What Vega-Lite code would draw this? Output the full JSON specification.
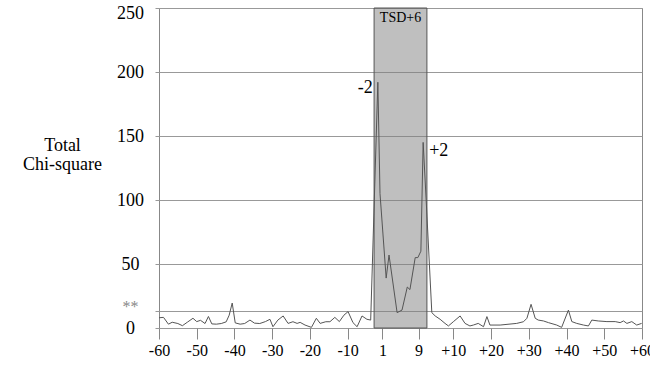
{
  "$schema": "https://vega.github.io/schema/vega-lite/v6.json",
  "width": 483,
  "height": 320,
  "autosize": {"type": "none"},
  "padding": {"left": 159, "top": 8, "right": 8, "bottom": 38},
  "background": "white",
  "config": {
    "view": {"stroke": "#888", "strokeWidth": 1},
    "font": "Liberation Serif, Times New Roman, serif",
    "axis": {"labelOverlap": false, "labelFont": "Liberation Serif, Times New Roman, serif", "titleFont": "Liberation Serif, Times New Roman, serif"},
    "text": {"font": "Liberation Serif, Times New Roman, serif"}
  },
  "data": {
    "values": [
      {"x": -60, "chi": 8}, {"x": -58.8, "chi": 8.3}, {"x": -57.5, "chi": 3}, {"x": -56.5, "chi": 4.5},
      {"x": -55, "chi": 3.5}, {"x": -53.8, "chi": 1.8}, {"x": -52.5, "chi": 4.5}, {"x": -51, "chi": 7.6},
      {"x": -50, "chi": 5}, {"x": -49, "chi": 6}, {"x": -47.8, "chi": 3.5}, {"x": -46.9, "chi": 9},
      {"x": -46, "chi": 3.2}, {"x": -44.8, "chi": 3}, {"x": -43.5, "chi": 3.5}, {"x": -42.2, "chi": 4.8},
      {"x": -41.4, "chi": 10}, {"x": -40.6, "chi": 19.5}, {"x": -39.8, "chi": 4}, {"x": -38.5, "chi": 3},
      {"x": -37.3, "chi": 3.5}, {"x": -35.9, "chi": 6.2}, {"x": -34.7, "chi": 3.8}, {"x": -33.3, "chi": 3.5},
      {"x": -31.8, "chi": 5}, {"x": -30.6, "chi": 6.8}, {"x": -29.8, "chi": 1}, {"x": -28.5, "chi": 6.2},
      {"x": -27.1, "chi": 9.4}, {"x": -25.8, "chi": 3.6}, {"x": -24.5, "chi": 4.9}, {"x": -23.4, "chi": 3.6},
      {"x": -22.6, "chi": 4.4}, {"x": -21.3, "chi": 2.3}, {"x": -19.6, "chi": 0.5}, {"x": -18.3, "chi": 7.6},
      {"x": -17.3, "chi": 3.6}, {"x": -15.8, "chi": 4.9}, {"x": -14.7, "chi": 4.9}, {"x": -13.4, "chi": 8.3},
      {"x": -12.2, "chi": 5}, {"x": -11, "chi": 10}, {"x": -9.9, "chi": 12.8}, {"x": -8.6, "chi": 4.2},
      {"x": -7.5, "chi": 1}, {"x": -6.2, "chi": 9.4}, {"x": -4.9, "chi": 6.8}, {"x": -3.9, "chi": 6.2},
      {"x": -2.0, "chi": 192}, {"x": -1.43, "chi": 105}, {"x": 0.2, "chi": 39}, {"x": 0.96, "chi": 57},
      {"x": 3.1, "chi": 12}, {"x": 4.4, "chi": 14}, {"x": 5.8, "chi": 32}, {"x": 6.5, "chi": 30},
      {"x": 7.9, "chi": 55}, {"x": 8.6, "chi": 55}, {"x": 9.4, "chi": 60}, {"x": 10.0, "chi": 145},
      {"x": 10.8, "chi": 100}, {"x": 12.3, "chi": 12}, {"x": 13.2, "chi": 9.4}, {"x": 14.5, "chi": 6.8},
      {"x": 15.8, "chi": 3.6}, {"x": 16.7, "chi": 1.6}, {"x": 18.0, "chi": 4.9}, {"x": 19.8, "chi": 9.4},
      {"x": 21.1, "chi": 3.6}, {"x": 22.4, "chi": 1.6}, {"x": 23.3, "chi": 2.3}, {"x": 24.6, "chi": 3.6},
      {"x": 26.0, "chi": 1.0}, {"x": 26.9, "chi": 8.9}, {"x": 27.7, "chi": 2.3}, {"x": 30.4, "chi": 2.3},
      {"x": 34.8, "chi": 3.6}, {"x": 36.6, "chi": 4.9}, {"x": 37.5, "chi": 7.6}, {"x": 38.6, "chi": 18.5},
      {"x": 39.7, "chi": 7.6}, {"x": 40.5, "chi": 6.2}, {"x": 41.9, "chi": 5.5}, {"x": 43.2, "chi": 4.2},
      {"x": 45.4, "chi": 2.3}, {"x": 46.7, "chi": 0.5}, {"x": 48.5, "chi": 14}, {"x": 49.4, "chi": 5},
      {"x": 50.7, "chi": 3.6}, {"x": 52.5, "chi": 2.3}, {"x": 53.8, "chi": 1.6}, {"x": 54.7, "chi": 6.2},
      {"x": 56.4, "chi": 5.5}, {"x": 58.7, "chi": 5}, {"x": 60.9, "chi": 5}, {"x": 62.2, "chi": 4.2},
      {"x": 63.1, "chi": 5.5}, {"x": 64.0, "chi": 3.6}, {"x": 65.3, "chi": 5}, {"x": 66.6, "chi": 2.3},
      {"x": 67.9, "chi": 3.6}
    ]
  },
  "encoding": {
    "x": {
      "field": "x", "type": "quantitative",
      "scale": {"domain": [-60, 68], "nice": false, "zero": false},
      "axis": {
        "title": null,
        "values": [-60, -50, -40, -30, -20, -10, -0.8, 8.8, 18, 28, 38, 48, 58, 68],
        "labelExpr": "datum.value < -5 ? '-' + format(-datum.value, 'd') : (datum.value < 0 ? '1' : (datum.value < 10 ? '9' : '+' + format(datum.value - 8, 'd')))",
        "grid": false,
        "domain": false,
        "tickSize": 11,
        "tickColor": "#888",
        "labelFont": "Liberation Serif, Times New Roman, serif",
        "labelFontSize": 16,
        "labelColor": "black",
        "labelPadding": 3,
        "labelOverlap": false,
        "labelFlush": false,
        "labelBound": false
      }
    },
    "y": {
      "field": "chi", "type": "quantitative",
      "scale": {"domain": [0, 250], "nice": false},
      "axis": {
        "title": ["Total", "Chi-square"],
        "titleAngle": 0,
        "titleAlign": "center",
        "titleBaseline": "middle",
        "titleX": -97,
        "titleY": 137,
        "titleFont": "Liberation Serif, Times New Roman, serif",
        "titleFontSize": 18,
        "titleFontWeight": "normal",
        "titleLineHeight": 19,
        "titleColor": "black",
        "values": [0, 13, 50, 100, 150, 200, 250],
        "labelExpr": "datum.value == 13 ? '**' : datum.label",
        "labelAlign": "center",
        "labelPadding": 25,
        "labelFont": "Liberation Serif, Times New Roman, serif",
        "labelFontSize": {"condition": {"test": "datum.value == 13", "value": 16}, "value": 18},
        "labelColor": {"condition": {"test": "datum.value == 13", "value": "#888"}, "value": "black"},
        "labelBaseline": "middle",
        "labelOffset": {"condition": [{"test": "datum.value == 13", "value": -5}, {"test": "datum.value == 250", "value": 5}], "value": 0},
        "labelFlush": false,
        "labelBound": false,
        "labelOverlap": false,
        "grid": true,
        "gridColor": "#999",
        "gridOpacity": 1,
        "domain": false,
        "tickSize": 4,
        "tickColor": "#999"
      }
    }
  },
  "layer": [
    {
      "data": {"values": [{"x": -3, "xend": 11, "chi": 0, "chiend": 250}]},
      "mark": {"type": "rect", "fill": "#808080", "fillOpacity": 0.5, "stroke": "#555", "strokeWidth": 1},
      "encoding": {
        "x2": {"field": "xend"},
        "y2": {"field": "chiend"}
      }
    },
    {
      "mark": {"type": "line", "color": "#555", "strokeWidth": 1}
    },
    {
      "data": {"values": [{"x": 4, "chi": 250, "label": "TSD+6"}]},
      "mark": {"type": "text", "font": "Liberation Serif, Times New Roman, serif", "fontSize": 14, "color": "black", "baseline": "middle", "align": "center", "dy": 10},
      "encoding": {"text": {"field": "label"}}
    },
    {
      "data": {"values": [{"x": -2, "chi": 192, "label": "-2"}]},
      "mark": {"type": "text", "font": "Liberation Serif, Times New Roman, serif", "fontSize": 18, "color": "black", "baseline": "middle", "align": "right", "dx": -5, "dy": 6},
      "encoding": {"text": {"field": "label"}}
    },
    {
      "data": {"values": [{"x": 10, "chi": 145, "label": "+2"}]},
      "mark": {"type": "text", "font": "Liberation Serif, Times New Roman, serif", "fontSize": 18, "color": "black", "baseline": "middle", "align": "left", "dx": 6, "dy": 9},
      "encoding": {"text": {"field": "label"}}
    }
  ]
}
